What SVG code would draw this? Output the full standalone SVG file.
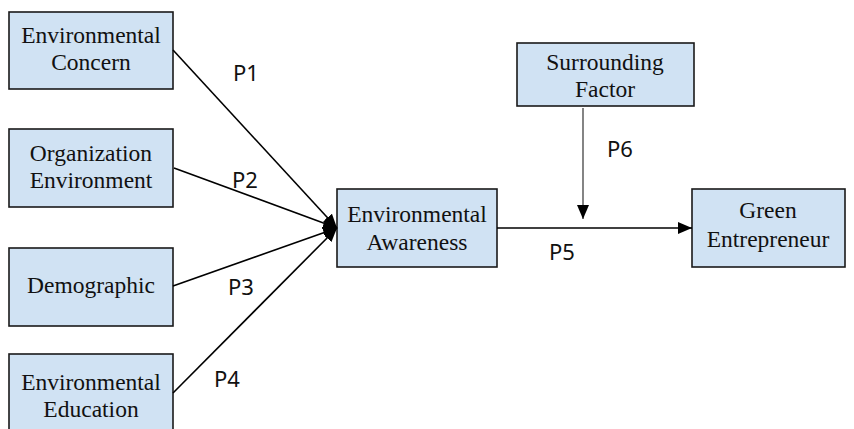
<svg xmlns="http://www.w3.org/2000/svg" width="854" height="429" viewBox="0 0 854 429">
<style>
.box{fill:#d0e2f3;stroke:#1a1a1a;stroke-width:1.6}
.t{font-family:"Liberation Serif","Times New Roman",serif;font-size:23.5px;fill:#111;text-anchor:middle}
.p{font-family:"Noto Sans","Open Sans",sans-serif;font-size:22px;fill:#111}
.c{stroke:#000;stroke-width:1.6;fill:none}
</style>
<defs>
<marker id="ah" markerWidth="14" markerHeight="12" refX="14" refY="6" orient="auto" markerUnits="userSpaceOnUse">
<path d="M0,0 L14,6 L0,12 Z" fill="#000"/>
</marker>
</defs>
<rect width="854" height="429" fill="#fff"/>
<g id="n1"><rect class="box" x="9" y="12" width="164" height="77"/><text class="t" x="91" y="43">Environmental</text><text class="t" x="91" y="70">Concern</text></g>
<g id="n2"><rect class="box" x="9" y="129" width="164" height="78"/><text class="t" x="91" y="161">Organization</text><text class="t" x="91" y="188">Environment</text></g>
<g id="n3"><rect class="box" x="9" y="248" width="164" height="78"/><text class="t" x="91" y="293">Demographic</text></g>
<g id="n4"><rect class="box" x="9" y="354" width="164" height="80"/><text class="t" x="91" y="390">Environmental</text><text class="t" x="91" y="417">Education</text></g>
<g id="n5"><rect class="box" x="337" y="189" width="160" height="78"/><text class="t" x="417" y="222">Environmental</text><text class="t" x="417" y="250">Awareness</text></g>
<g id="n6"><rect class="box" x="517" y="43" width="177" height="63"/><text class="t" x="605" y="70">Surrounding</text><text class="t" x="605" y="97">Factor</text></g>
<g id="n7"><rect class="box" x="692" y="189" width="153" height="78"/><text class="t" x="768" y="218">Green</text><text class="t" x="768" y="247">Entrepreneur</text></g>
<g id="connectors">
<line class="c" x1="173" y1="50" x2="337" y2="228" marker-end="url(#ah)"/>
<line class="c" x1="174" y1="168" x2="337" y2="228" marker-end="url(#ah)"/>
<line class="c" x1="173" y1="286" x2="337" y2="228" marker-end="url(#ah)"/>
<line class="c" x1="173" y1="393" x2="337" y2="228" marker-end="url(#ah)"/>
<line class="c" x1="497" y1="228" x2="692" y2="228" marker-end="url(#ah)"/>
<line x1="583" y1="108" x2="583" y2="219" stroke="#333" stroke-width="1.2" marker-end="url(#ah)"/>
</g>
<g id="labels">
<text class="p" x="233" y="81">P1</text>
<text class="p" x="232" y="188">P2</text>
<text class="p" x="228" y="295">P3</text>
<text class="p" x="214" y="387">P4</text>
<text class="p" x="549" y="260">P5</text>
<text class="p" x="607" y="157">P6</text>
</g>
</svg>
